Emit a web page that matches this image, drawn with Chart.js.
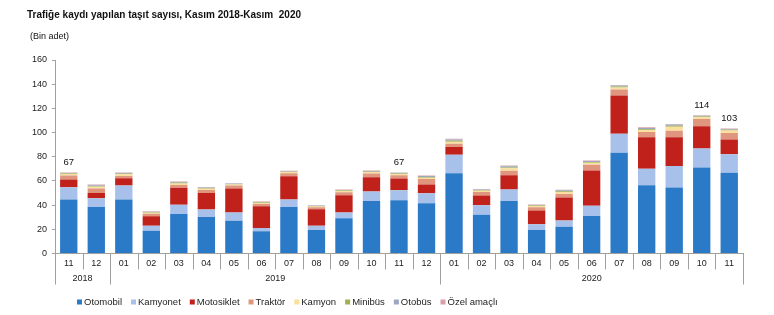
<!DOCTYPE html>
<html>
<head>
<meta charset="utf-8">
<script src="https://cdn.jsdelivr.net/npm/chart.js@4"></script>
<style>
  html, body { margin: 0; padding: 0; background: #fff; }
  canvas { display: block; }
</style>
</head>
<body>
<canvas id="c" width="774" height="315"></canvas>
<script>
// months Nov 2018 - Nov 2020 (thousands)
const months = ['11','12','01','02','03','04','05','06','07','08','09','10','11','12',
                '01','02','03','04','05','06','07','08','09','10','11'];
const years = ['2018', '2019', '2020'];
const yearCounts = [2, 12, 11];

const otomobil   = [44.6, 38.5, 44.6, 18.8, 32.7, 30.2, 27.1, 18.5, 38.5, 19.4, 29.1, 43.5, 44.0, 41.5, 66.4, 32.1, 43.5, 19.5, 22.2, 31.1, 83.3, 56.5, 54.6, 71.2, 66.8];
const kamyonet   = [10.2, 7.2, 11.6, 4.2, 7.7, 6.1, 6.9, 2.5, 6.1, 3.6, 4.9, 7.7, 8.3, 8.3, 15.3, 7.8, 9.4, 4.7, 5.0, 8.3, 15.8, 13.6, 17.7, 15.7, 15.2];
const motosiklet = [6.4, 4.4, 6.1, 7.7, 13.9, 13.8, 19.7, 18.0, 19.3, 13.5, 14.2, 11.9, 9.7, 7.2, 6.3, 8.0, 11.9, 11.3, 19.1, 29.3, 31.5, 26.0, 23.8, 18.3, 12.2];
const traktor    = [3.3, 3.6, 1.7, 2.2, 2.4, 2.5, 2.5, 2.0, 2.5, 1.7, 2.5, 3.1, 2.8, 4.5, 2.8, 3.0, 3.6, 2.8, 3.0, 4.7, 5.0, 4.4, 5.5, 6.1, 5.5];
const kamyon     = [1.2, 1.4, 1.6, 0.8, 1.2, 1.0, 0.8, 0.8, 1.0, 0.7, 1.0, 1.1, 1.0, 1.2, 1.6, 1.0, 2.0, 0.9, 1.5, 1.6, 1.6, 1.6, 3.2, 1.4, 2.0];
const minibus    = [0.4, 0.6, 0.4, 0.4, 0.5, 0.4, 0.3, 0.3, 0.3, 0.3, 0.4, 0.4, 0.4, 0.6, 0.8, 0.5, 0.8, 0.4, 0.6, 0.6, 0.8, 0.7, 0.8, 0.6, 0.6];
const otobus     = [0.5, 0.8, 0.6, 0.5, 0.7, 0.6, 0.5, 0.5, 0.4, 0.4, 0.5, 0.6, 0.5, 0.8, 1.0, 0.6, 1.0, 0.6, 0.8, 0.8, 0.9, 1.0, 1.0, 0.6, 0.6];
const ozelAmacli = [0.4, 0.5, 0.4, 0.3, 0.4, 0.4, 0.3, 0.3, 0.3, 0.3, 0.3, 0.4, 0.3, 0.4, 0.6, 0.4, 0.6, 0.3, 0.5, 0.6, 0.5, 0.5, 0.5, 0.4, 0.4];

// bars that carry a total label
const labeledBars = [0, 12, 23, 24];

const FONT = '"Liberation Sans", Arial, sans-serif';

const series = [
  ['Otomobil', otomobil, '#2A7AC8'],
  ['Kamyonet', kamyonet, '#A8C1EA'],
  ['Motosiklet', motosiklet, '#C0211B'],
  ['Traktör', traktor, '#E0967E'],
  ['Kamyon', kamyon, '#FADF9E'],
  ['Minibüs', minibus, '#A0B050'],
  ['Otobüs', otobus, '#9BA7C0'],
  ['Özel amaçlı', ozelAmacli, '#D8A0A6']
];

const decor = {
  id: 'decor',
  afterDraw(chart) {
    const ctx = chart.ctx;
    const xs = chart.scales.x;
    const ys = chart.scales.y;
    const bottom = chart.chartArea.bottom;
    const n = months.length;
    const half = (xs.getPixelForValue(1) - xs.getPixelForValue(0)) / 2;
    const edge = i => (i < n ? xs.getPixelForValue(i) - half : xs.getPixelForValue(n - 1) + half);

    ctx.save();

    // category separators, longer ones at year boundaries
    const yearEdges = [0];
    yearCounts.reduce((acc, c) => { yearEdges.push(acc + c); return acc + c; }, 0);
    ctx.strokeStyle = '#a0a0a0';
    ctx.lineWidth = 1;
    for (let i = 0; i <= n; i++) {
      const px = Math.round(edge(i)) + 0.5;
      const long = yearEdges.includes(i);
      ctx.beginPath();
      ctx.moveTo(px, bottom);
      ctx.lineTo(px, bottom + (long ? 31 : 16));
      ctx.stroke();
    }

    // year labels
    ctx.fillStyle = '#222';
    ctx.font = '9px ' + FONT;
    ctx.textAlign = 'center';
    ctx.textBaseline = 'middle';
    years.forEach((y, k) => {
      const a = edge(yearEdges[k]), b = edge(yearEdges[k + 1]);
      ctx.fillText(y, (a + b) / 2, bottom + 25);
    });

    // totals above selected bars
    ctx.fillStyle = '#111';
    ctx.font = '9.5px ' + FONT;
    labeledBars.forEach(i => {
      const total = series.reduce((s, d) => s + d[1][i], 0);
      ctx.fillText(String(Math.round(total)), xs.getPixelForValue(i), ys.getPixelForValue(total) - 10);
    });

    // title and unit
    ctx.textAlign = 'left';
    ctx.fillStyle = '#111';
    ctx.font = 'bold 10px ' + FONT;
    ctx.fillText('Trafiğe kaydı yapılan taşıt sayısı, Kasım 2018-Kasım  2020', 27, 15);
    ctx.font = '9px ' + FONT;
    ctx.fillText('(Bin adet)', 30, 37);

    // legend
    ctx.font = '9.5px ' + FONT;
    let lx = 77;
    const ly = 302;
    series.forEach(([name, , color]) => {
      ctx.fillStyle = color;
      ctx.fillRect(lx, ly - 2.5, 5, 5);
      lx += 7;
      ctx.fillStyle = '#222';
      ctx.fillText(name, lx, ly);
      lx += ctx.measureText(name).width + 9;
    });

    ctx.restore();
  }
};

new Chart(document.getElementById('c'), {
  type: 'bar',
  data: {
    labels: months,
    datasets: series.map(([name, values, color]) => ({
      label: name,
      data: values,
      backgroundColor: color,
      borderWidth: 0,
      barPercentage: 0.63,
      categoryPercentage: 1
    }))
  },
  options: {
    responsive: false,
    devicePixelRatio: 1,
    animation: false,
    layout: { padding: { left: 25, right: 31, top: 60, bottom: 21.5 } },
    plugins: {
      legend: { display: false },
      title: { display: false },
      tooltip: { enabled: false }
    },
    scales: {
      x: {
        stacked: true,
        afterFit(scale) { scale.height = 40; },
        grid: { display: true, drawOnChartArea: false, drawTicks: false },
        border: { display: true, color: '#a0a0a0' },
        ticks: {
          autoSkip: false,
          maxRotation: 0,
          padding: 5,
          color: '#222',
          font: { family: FONT, size: 9 }
        }
      },
      y: {
        stacked: true,
        min: 0,
        max: 160,
        afterFit(scale) { scale.width = 30; },
        grid: { drawOnChartArea: false, drawTicks: true, tickLength: 3, color: '#a0a0a0' },
        border: { display: true, color: '#a0a0a0' },
        ticks: {
          stepSize: 20,
          padding: 5,
          color: '#222',
          font: { family: FONT, size: 9 }
        }
      }
    }
  },
  plugins: [decor]
});
</script>
</body>
</html>
